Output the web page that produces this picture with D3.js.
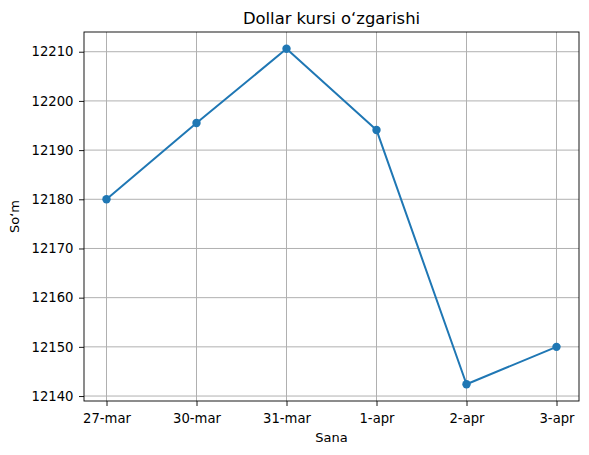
<!DOCTYPE html>
<html><head><meta charset="utf-8">
<script src="https://cdn.jsdelivr.net/npm/d3@7"></script>
<style>body{margin:0;background:#fff}svg{display:block;font-family:"DejaVu Sans",sans-serif}</style>
</head><body>
<svg id="c" width="589" height="455"></svg>
<script>
const categories = ["27-mar","30-mar","31-mar","1-apr","2-apr","3-apr"];
const values = [12180.0, 12195.5, 12210.6, 12194.1, 12142.4, 12150.0];
const yTicks = [12140,12150,12160,12170,12180,12190,12200,12210];
const title = "Dollar kursi o\u2018zgarishi";
const xLabel = "Sana";
const yLabel = "So\u2018m";

const svg = d3.select("#c");
const L=84, R=579, T=32, B=401;
const n = categories.length;
const x = d3.scaleLinear().domain([-0.25, n-1+0.25]).range([L,R]);
const lo = d3.min(values), hi = d3.max(values), pad=(hi-lo)*0.05;
const y = d3.scaleLinear().domain([lo-pad, hi+pad]).range([B,T]);

const g = svg.append("g");
// grid
g.selectAll(".gx").data(categories).enter().append("line")
 .attr("x1",(d,i)=>x(i)).attr("x2",(d,i)=>x(i)).attr("y1",T).attr("y2",B)
 .attr("stroke","#b0b0b0").attr("stroke-width",1);
g.selectAll(".gy").data(yTicks).enter().append("line")
 .attr("x1",L).attr("x2",R).attr("y1",d=>y(d)).attr("y2",d=>y(d))
 .attr("stroke","#b0b0b0").attr("stroke-width",1);

// axes
const xa = d3.axisBottom(x).tickValues(d3.range(n)).tickFormat(i=>categories[i]).tickSize(5).tickPadding(7.3);
const ya = d3.axisLeft(y).tickValues(yTicks).tickFormat(d3.format("d")).tickSize(5).tickPadding(5.5);
const gx = svg.append("g").attr("transform",`translate(0,${B})`).call(xa);
const gy = svg.append("g").attr("transform",`translate(${L},0)`).call(ya);
[gx,gy].forEach(a=>{a.select(".domain").remove();a.selectAll("text").attr("font-size","13.2px").attr("fill","#000").attr("font-family","DejaVu Sans");a.selectAll("line").attr("stroke","#000").attr("stroke-width",0.9);});

// frame
svg.append("rect").attr("x",L).attr("y",T).attr("width",R-L).attr("height",B-T)
 .attr("fill","none").attr("stroke","#000").attr("stroke-width",0.9);

// line
const line = d3.line().x((d,i)=>x(i)).y(d=>y(d));
svg.append("path").datum(values).attr("d",line).attr("fill","none")
 .attr("stroke","#1f77b4").attr("stroke-width",2).attr("stroke-linejoin","round");
svg.selectAll(".pt").data(values).enter().append("circle")
 .attr("cx",(d,i)=>x(i)).attr("cy",d=>y(d)).attr("r",4.2).attr("fill","#1f77b4");

// labels
svg.append("text").attr("x",(L+R)/2).attr("y",24).attr("text-anchor","middle")
 .attr("font-size","16.4px").text(title);
svg.append("text").attr("x",(L+R)/2).attr("y",442).attr("text-anchor","middle")
 .attr("font-size","13px").text(xLabel);
svg.append("text").attr("transform",`translate(19,${(T+B)/2}) rotate(-90)`).attr("text-anchor","middle")
 .attr("font-size","13px").text(yLabel);
</script>
</body></html>
